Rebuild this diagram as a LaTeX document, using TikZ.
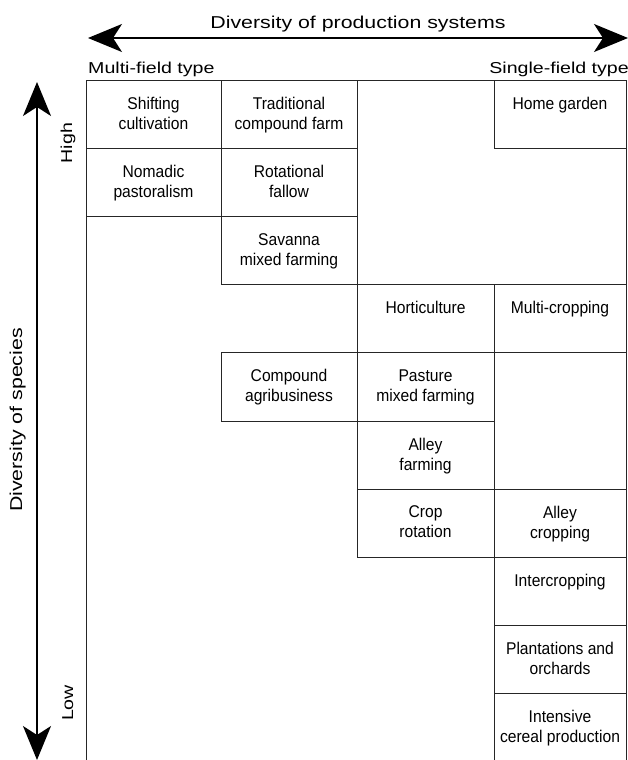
\documentclass[tikz,border=0pt]{standalone}
\usepackage{fontspec}
\setmainfont{Liberation Sans}
\newfontfamily\axisfont[FakeStretch=1.24]{Liberation Sans}
\newfontfamily\cellfont[FakeStretch=0.92]{Liberation Sans}
\usetikzlibrary{arrows.meta, positioning}

\begin{document}
\begin{tikzpicture}[x=1pt, y=-1pt,
    cell/.style={draw=black!85, line width=0.9pt, minimum height=68.2pt, inner sep=0pt},
    col1/.style={cell, minimum width=135pt},
    col2/.style={cell, minimum width=136pt},
    col3/.style={cell, minimum width=137pt},
    col4/.style={cell, minimum width=132pt},
    celltext/.style={anchor=north, align=center, inner sep=0pt, yshift=-17pt,
                     font=\cellfont\fontsize{17}{20}\selectfont},
    axislabel/.style={inner sep=0pt, font=\axisfont\fontsize{17.2}{20}\selectfont},
    endlabel/.style={inner sep=0pt, font=\axisfont\fontsize{15.8}{18}\selectfont},
    twoway/.style={line width=1.6pt,
                   {Stealth[length=34pt,width=28pt,inset=9pt]}-{Stealth[length=34pt,width=28pt,inset=9pt]}},
]
\clip (0,0) rectangle (628,760);

% axes
\node[axislabel, anchor=base] (title) at (358,29) {Diversity of production systems};
\coordinate (hleft) at (88,38);
\coordinate (hright) at (628,38);
\draw[twoway] (hleft) -- (hright);
\node[endlabel, anchor=base west] (multi) at (88,74) {Multi-field type};
\node[endlabel, anchor=base east] (single) at (629,74) {Single-field type};

\node[axislabel, rotate=90, anchor=base] (species) at (22,420) {Diversity of species};
\coordinate (vtop) at (37,82);
\coordinate (vbot) at (37,760);
\draw[twoway] (vbot) -- (vtop);
\node[endlabel, rotate=90, anchor=base] (high) at (72,143) {High};
\node[endlabel, rotate=90, anchor=base] (low) at (73,703) {Low};

% frame
\draw[draw=black!85, line width=0.9pt] (86,760) |- (626,80) -- (626,760);

% first column
\node[col1, label={[celltext]north:{Shifting\\cultivation}}] (shifting) at (153.5,114.1) {};
\node[col1, label={[celltext]north:{Nomadic\\pastoralism}}] (nomadic) at (153.5,182.3) {};
% second column
\node[col2, label={[celltext]north:{Traditional\\compound farm}}] (compound) at (289,114.1) {};
\node[col2, label={[celltext]north:{Rotational\\fallow}}] (fallow) at (289,182.3) {};
\node[col2, label={[celltext]north:{Savanna\\mixed farming}}] (savanna) at (289,250.5) {};
\node[col2, label={[celltext]north:{Compound\\agribusiness}}] (agribiz) at (289,386.9) {};
% third column
\node[col3, label={[celltext]north:{Horticulture}}] (horti) at (425.5,318.7) {};
\node[col3, label={[celltext]north:{Pasture\\mixed farming}}] (pasture) at (425.5,386.9) {};
\node[col3, label={[celltext]north:{Alley\\farming}}] (alleyfarm) at (425.5,455.1) {};
\node[col3, label={[celltext]north:{Crop\\rotation}}] (rotation) at (425.5,523.3) {};
% fourth column
\node[col4, label={[celltext]north:{Home garden}}] (garden) at (560,114.1) {};
\node[col4, label={[celltext]north:{Multi-cropping}}] (multicrop) at (560,318.7) {};
\node[col4, label={[celltext]north:{Alley\\cropping}}] (alleycrop) at (560,523.3) {};
\node[col4, label={[celltext]north:{Intercropping}}] (inter) at (560,591.5) {};
\node[col4, label={[celltext]north:{Plantations and\\orchards}}] (plant) at (560,659.7) {};
\node[col4, label={[celltext]north:{Intensive\\cereal production}}] (cereal) at (560,727.9) {};
\end{tikzpicture}
\end{document}
